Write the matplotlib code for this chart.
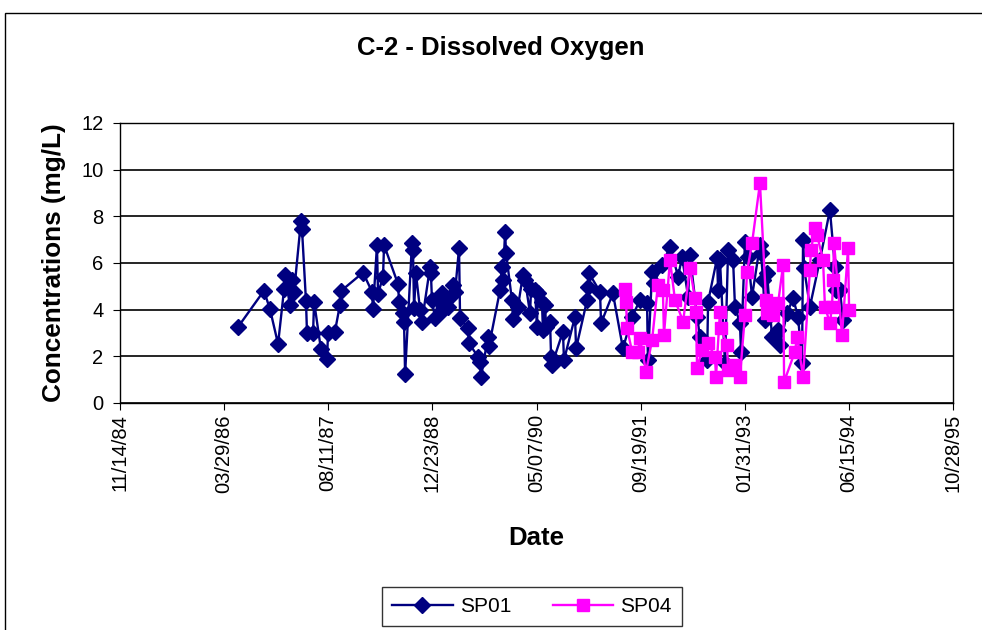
import numpy as np
import pandas as pd
import matplotlib
matplotlib.use("Agg")
import matplotlib.pyplot as plt
import matplotlib.dates as mdates
from matplotlib.ticker import FixedLocator
from matplotlib.patches import Rectangle

plt.rcParams['font.family'] = ['Liberation Sans', 'DejaVu Sans']

title = "C-2 - Dissolved Oxygen"
y_label = "Concentrations (mg/L)"
x_label = "Date"

# Sample dates as Excel serial day numbers, concentrations in mg/L
sp01_serial = [31567, 31691, 31720, 31759, 31788, 31792, 31816, 31826, 31836, 31869,
               31874, 31893, 31898, 31927, 31932, 31965, 31994, 31999, 32032, 32056,
               32061, 32167, 32210, 32215, 32234, 32239, 32263, 32268, 32335, 32340,
               32359, 32364, 32369, 32402, 32407, 32412, 32421, 32441, 32450, 32489,
               32493, 32498, 32513, 32527, 32546, 32551, 32570, 32575, 32599, 32609,
               32628, 32633, 32671, 32676, 32719, 32729, 32734, 32767, 32772, 32825,
               32834, 32839, 32849, 32854, 32882, 32887, 32911, 32935, 32945, 32969,
               32974, 32993, 33002, 33007, 33026, 33031, 33041, 33046, 33065, 33070,
               33074, 33127, 33132, 33185, 33190, 33243, 33247, 33252, 33305, 33310,
               33367, 33415, 33459, 33497, 33531, 33535, 33555, 33564, 33603, 33641,
               33680, 33699, 33728, 33737, 33771, 33785, 33819, 33824, 33867, 33872,
               33881, 33905, 33920, 33944, 33953, 33977, 33982, 34001, 34016, 34035,
               34073, 34078, 34088, 34097, 34107, 34131, 34160, 34169, 34203, 34232,
               34256, 34275, 34280, 34285, 34313, 34361, 34409, 34433, 34438, 34457,
               34472]
sp01_do = [3.26, 4.81, 4.03, 2.53, 4.89, 5.47, 4.20, 5.27, 4.77, 7.81,
           7.44, 4.38, 2.99, 2.99, 4.34, 2.30, 1.87, 2.99, 3.06, 4.20,
           4.80, 5.59, 4.77, 4.01, 6.77, 4.67, 5.42, 6.77, 5.10, 4.34,
           3.84, 3.46, 1.24, 6.85, 6.56, 4.06, 5.56, 3.99, 3.49, 5.84,
           5.56, 4.41, 3.63, 4.41, 4.70, 3.99, 4.41, 4.13, 5.06, 4.77,
           6.63, 3.63, 3.20, 2.56, 1.98, 1.77, 1.13, 2.84, 2.44, 4.84,
           5.84, 5.27, 7.34, 6.42, 4.41, 3.59, 4.13, 5.49, 5.27, 3.84,
           4.90, 4.84, 3.27, 4.70, 4.34, 3.13, 4.20, 3.27, 3.49, 1.98,
           1.63, 3.06, 1.84, 3.70, 2.34, 4.41, 4.99, 5.56, 4.77, 3.42,
           4.70, 2.34, 3.70, 4.41, 4.27, 1.84, 5.63, 5.13, 5.91, 6.70,
           5.42, 6.27, 4.56, 6.34, 3.70, 2.84, 1.84, 4.34, 6.20, 4.84,
           6.13, 1.70, 6.56, 6.13, 4.13, 3.42, 2.20, 6.91, 6.27, 4.56,
           6.77, 6.42, 5.27, 3.56, 5.56, 2.84, 3.13, 2.49, 3.84, 4.49,
           3.70, 1.70, 6.99, 5.77, 4.13, 6.13, 8.27, 5.84, 4.84, 4.84,
           3.56]

sp04_serial = [33425, 33430, 33435, 33459, 33487, 33497, 33526, 33555, 33583, 33607,
               33612, 33641, 33665, 33704, 33737, 33761, 33766, 33771, 33795, 33824,
               33857, 33862, 33881, 33886, 33915, 33920, 33953, 33977, 34001, 34011,
               34035, 34073, 34102, 34107, 34136, 34160, 34184, 34189, 34241, 34251,
               34280, 34313, 34318, 34337, 34347, 34376, 34385, 34409, 34419, 34424,
               34429, 34467, 34496, 34501]
sp04_do = [4.90, 4.34, 3.20, 2.20, 2.20, 2.77, 1.34, 2.70, 5.06, 4.84,
           2.91, 6.13, 4.41, 3.49, 5.77, 4.49, 3.91, 1.49, 2.27, 2.56,
           1.98, 1.13, 3.91, 3.20, 2.49, 1.41, 1.63, 1.13, 3.77, 5.63,
           6.85, 9.42, 4.41, 3.84, 3.77, 4.27, 5.91, 0.91, 2.20, 2.84,
           1.13, 5.70, 6.56, 7.49, 7.20, 6.13, 4.13, 3.42, 4.13, 5.27,
           6.85, 2.91, 6.63, 3.99]

x_tick_serials = [31000, 31500, 32000, 32500, 33000, 33500, 34000, 34500, 35000]
y_ticks = [0, 2, 4, 6, 8, 10, 12]


def to_dt(s):
    return pd.to_datetime(np.asarray(s), unit='D', origin='1899-12-30')


fig = plt.figure(figsize=(9.82, 6.30), dpi=100)
ax = fig.add_axes([120 / 982, 1 - 403 / 630, (953 - 120) / 982, (403 - 123) / 630])

# outer chart border
fig.patches.append(Rectangle((5 / 982, -0.1), 1.2, 1 - 13 / 630 + 0.1,
                             transform=fig.transFigure, fill=False,
                             edgecolor='black', linewidth=1.0))

navy = '#000080'
mag = '#FF00FF'
ax.plot(to_dt(sp01_serial), sp01_do, color=navy, lw=1.7, marker='D',
        markersize=8.5, markerfacecolor=navy, markeredgecolor=navy,
        label='SP01', zorder=3)
ax.plot(to_dt(sp04_serial), sp04_do, color=mag, lw=1.7, marker='s',
        markersize=9, markerfacecolor=mag, markeredgecolor=mag,
        label='SP04', zorder=4)

ax.set_xlim(to_dt([x_tick_serials[0]])[0], to_dt([x_tick_serials[-1]])[0])
ax.set_ylim(0, 12)
ax.set_yticks(y_ticks)
ax.xaxis.set_major_locator(FixedLocator(mdates.date2num(to_dt(x_tick_serials))))
ax.xaxis.set_major_formatter(mdates.DateFormatter('%m/%d/%y'))
ax.grid(axis='y', color='black', lw=1.2)
ax.set_axisbelow(True)
for sp in ax.spines.values():
    sp.set_color('black')
    sp.set_linewidth(1.0)

ax.tick_params(axis='x', labelrotation=90, labelsize=14.5, length=5, direction='out', pad=3)
ax.tick_params(axis='y', labelsize=14.5, length=5, direction='out', pad=7)

ax.set_xlabel(x_label, fontsize=18.5, fontweight='bold', labelpad=24)
ax.set_ylabel(y_label, fontsize=18.8, fontweight='bold', labelpad=11)
fig.text(501 / 982, 1 - 48 / 630, title, ha='center', va='center',
         fontsize=18.5, fontweight='bold')

leg = fig.legend(loc='center', bbox_to_anchor=(532 / 982, 1 - 606.5 / 630),
                 ncol=2, frameon=True, fancybox=False, fontsize=15,
                 handlelength=2.9, handletextpad=0.35, columnspacing=2.0,
                 borderpad=0.5, edgecolor='black')
leg.get_frame().set_linewidth(1.0)

fig.savefig('out.png', dpi=100)
